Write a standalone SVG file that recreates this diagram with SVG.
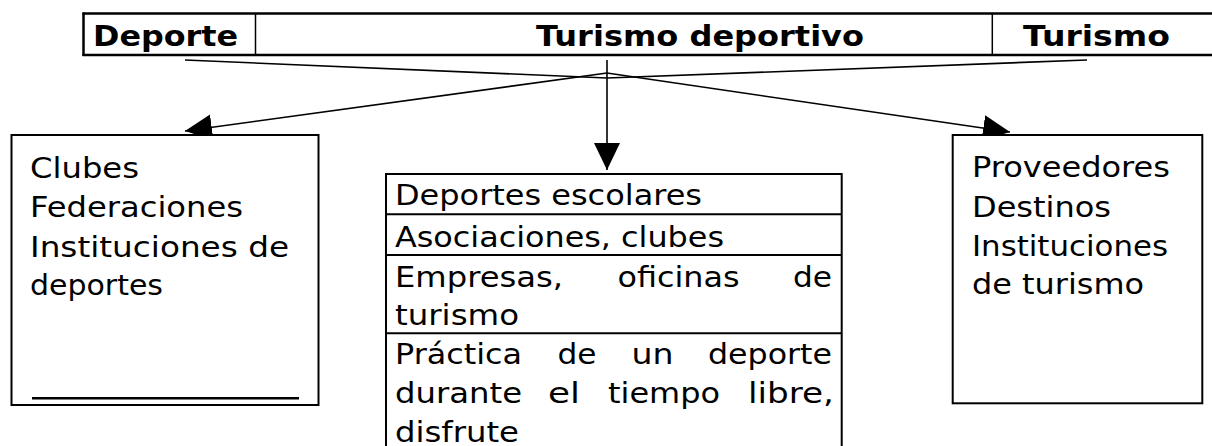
<svg xmlns="http://www.w3.org/2000/svg" width="1212" height="446" viewBox="0 0 1212 446">
<defs>
<style>
.t{font-family:"DejaVu Sans","Verdana",sans-serif;font-size:29px;fill:#000}
.b{font-weight:bold}
.box{fill:#fff;stroke:#000;stroke-width:2}
.ln{stroke:#000;stroke-width:1.6;fill:none}
.arr{stroke:#000;stroke-width:1.6;fill:none;marker-end:url(#ah)}
</style>
<marker id="ah" markerUnits="userSpaceOnUse" markerWidth="28" markerHeight="28" refX="27" refY="13" orient="auto" viewBox="0 0 28 26">
<path d="M0,0 L27,13 L0,26 z" fill="#000"/>
</marker>
</defs>
<rect width="1212" height="446" fill="#fff"/>

<g id="header">
<line x1="82.5" y1="13.5" x2="1212" y2="13.5" stroke="#000" stroke-width="2.5"/>
<line x1="82.5" y1="55" x2="1212" y2="55" stroke="#000" stroke-width="2.5"/>
<line x1="83.5" y1="12.5" x2="83.5" y2="56" stroke="#000" stroke-width="2.5"/>
<line x1="255.5" y1="14" x2="255.5" y2="55" stroke="#000" stroke-width="1.5"/>
<line x1="992.3" y1="14" x2="992.3" y2="55" stroke="#000" stroke-width="1.5"/>
<text class="t b" x="93" y="46" textLength="145" lengthAdjust="spacingAndGlyphs">Deporte</text>
<text class="t b" x="536" y="46" textLength="328" lengthAdjust="spacingAndGlyphs">Turismo deportivo</text>
<text class="t b" x="1023" y="46" textLength="147" lengthAdjust="spacingAndGlyphs">Turismo</text>
</g>

<g id="connectors">
<line class="ln" x1="185" y1="60" x2="607" y2="78"/>
<line class="ln" x1="1087" y1="60" x2="607" y2="78"/>
<line class="arr" x1="607" y1="73" x2="185" y2="131"/>
<line class="arr" x1="607" y1="73" x2="1010" y2="132"/>
<line class="arr" x1="607" y1="60" x2="607" y2="170"/>
</g>

<g id="deporte-box">
<rect class="box" x="11.5" y="135" width="307" height="270"/>
<line x1="32" y1="398.3" x2="299" y2="398.3" stroke="#000" stroke-width="2.5"/>
<text class="t" x="30" y="178" textLength="109" lengthAdjust="spacingAndGlyphs">Clubes</text>
<text class="t" x="30" y="217" textLength="213" lengthAdjust="spacingAndGlyphs">Federaciones</text>
<text class="t" x="30" y="256.5" textLength="259" lengthAdjust="spacingAndGlyphs">Instituciones de</text>
<text class="t" x="30" y="294.5" textLength="133" lengthAdjust="spacingAndGlyphs">deportes</text>
</g>

<g id="turismo-deportivo-box">
<rect class="box" x="386" y="174" width="455.7" height="290"/>
<line x1="386" y1="214.3" x2="841.7" y2="214.3" stroke="#000" stroke-width="2"/>
<line x1="386" y1="255" x2="841.7" y2="255" stroke="#000" stroke-width="2"/>
<line x1="386" y1="333.3" x2="841.7" y2="333.3" stroke="#000" stroke-width="2"/>
<text class="t" x="395" y="205" textLength="307" lengthAdjust="spacingAndGlyphs">Deportes escolares</text>
<text class="t" x="395" y="246.5" textLength="329" lengthAdjust="spacingAndGlyphs">Asociaciones, clubes</text>
<text class="t" x="395" y="286.5" textLength="168" lengthAdjust="spacingAndGlyphs">Empresas,</text>
<text class="t" x="617.5" y="286.5" textLength="122" lengthAdjust="spacingAndGlyphs">oficinas</text>
<text class="t" x="793" y="286.5" textLength="39" lengthAdjust="spacingAndGlyphs">de</text>
<text class="t" x="395" y="325" textLength="124" lengthAdjust="spacingAndGlyphs">turismo</text>
<text class="t" x="395" y="364" textLength="127" lengthAdjust="spacingAndGlyphs">Práctica</text>
<text class="t" x="557.5" y="364" textLength="39" lengthAdjust="spacingAndGlyphs">de</text>
<text class="t" x="631.5" y="364" textLength="42" lengthAdjust="spacingAndGlyphs">un</text>
<text class="t" x="708" y="364" textLength="124" lengthAdjust="spacingAndGlyphs">deporte</text>
<text class="t" x="395" y="403.3" textLength="127" lengthAdjust="spacingAndGlyphs">durante</text>
<text class="t" x="548" y="403.3" textLength="32" lengthAdjust="spacingAndGlyphs">el</text>
<text class="t" x="608" y="403.3" textLength="112" lengthAdjust="spacingAndGlyphs">tiempo</text>
<text class="t" x="748" y="403.3" textLength="86" lengthAdjust="spacingAndGlyphs">libre,</text>
<text class="t" x="395" y="441.7" textLength="124" lengthAdjust="spacingAndGlyphs">disfrute</text>
</g>

<g id="turismo-box">
<rect class="box" x="952.7" y="135" width="249.6" height="268.3"/>
<text class="t" x="972" y="177.3" textLength="198" lengthAdjust="spacingAndGlyphs">Proveedores</text>
<text class="t" x="972" y="216.5" textLength="139" lengthAdjust="spacingAndGlyphs">Destinos</text>
<text class="t" x="972" y="256" textLength="196" lengthAdjust="spacingAndGlyphs">Instituciones</text>
<text class="t" x="972" y="294" textLength="172" lengthAdjust="spacingAndGlyphs">de turismo</text>
</g>
</svg>
